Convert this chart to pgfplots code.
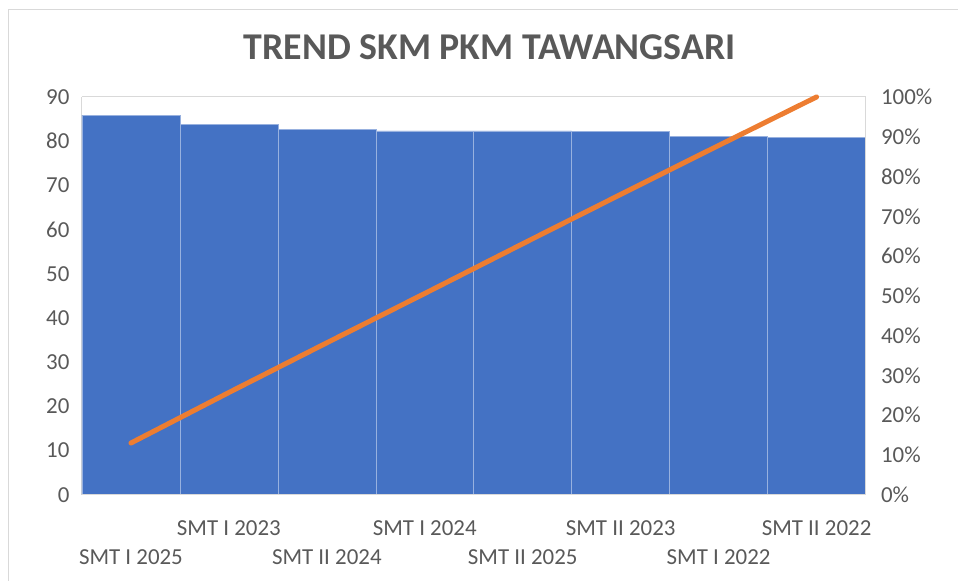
\documentclass[border=0pt]{standalone}
\usepackage{pgfplots}
\pgfplotsset{compat=1.18}
\usepackage{fontspec}
\setmainfont{Carlito}
\definecolor{barblue}{HTML}{4472C4}
\definecolor{lineorange}{HTML}{ED7D31}
\definecolor{txtgray}{HTML}{595959}
\definecolor{bordergray}{HTML}{D9D9D9}
\begin{document}
\begin{tikzpicture}
\path (0,0) rectangle (958bp,-581bp);
\draw[bordergray, line width=1bp] (9bp,-581bp) -- (9bp,-10bp) -- (958bp,-10bp);
\node[font=\bfseries\fontsize{38}{44}\selectfont, text=txtgray] at (490bp,-47bp) {TREND SKM PKM TAWANGSARI};
\begin{axis}[
  at={(82bp,-97bp)}, anchor=north west,
  scale only axis, width=784bp, height=398bp,
  xmin=-0.5, xmax=7.5, ymin=0, ymax=90,
  ytick distance=10,
  xtick={0,2,4,6},
  xticklabels={SMT I 2025, SMT II 2024, SMT II 2025, SMT I 2022},
  major tick length=0pt,
  axis line style={draw=bordergray, line width=1bp},
  tick label style={font=\fontsize{23}{27}\selectfont, text=txtgray},
  xticklabel style={anchor=base, yshift=-70bp},
  yticklabel style={anchor=east, xshift=-9bp},
  /pgf/number format/assume math mode=true,
  axis y line*=left,
  axis x line*=bottom,
  clip=false,
]
\addplot[ybar, bar width=1, fill=barblue, draw=white!45!barblue, line width=0.6bp]
  coordinates {(0,85.9) (1,83.7) (2,82.6) (3,82.3) (4,82.3) (5,82.2) (6,81.1) (7,80.8)};
\end{axis}
\begin{axis}[
  at={(82bp,-97bp)}, anchor=north west,
  scale only axis, width=784bp, height=398bp,
  xmin=-0.5, xmax=7.5, ymin=0, ymax=100,
  ytick distance=10,
  yticklabel={\pgfmathprintnumber{\tick}\%},
  xtick={1,3,5,7},
  xticklabels={SMT I 2023, SMT I 2024, SMT II 2023, SMT II 2022},
  major tick length=0pt,
  axis line style={draw=bordergray, line width=1bp},
  tick label style={font=\fontsize{23}{27}\selectfont, text=txtgray},
  xticklabel style={anchor=base, yshift=-41bp},
  yticklabel style={anchor=west, xshift=12bp},
  /pgf/number format/assume math mode=true,
  axis y line*=right,
  axis x line*=bottom,
  clip=false,
]
\draw[bordergray, line width=1bp] (rel axis cs:0,1) -- (rel axis cs:1,1);
\addplot[lineorange, line width=5bp, line cap=round, line join=round]
  coordinates {(0,13.0) (1,25.7) (2,38.2) (3,50.6) (4,63.1) (5,75.5) (6,87.8) (7,100)};
\end{axis}
\end{tikzpicture}
\end{document}
